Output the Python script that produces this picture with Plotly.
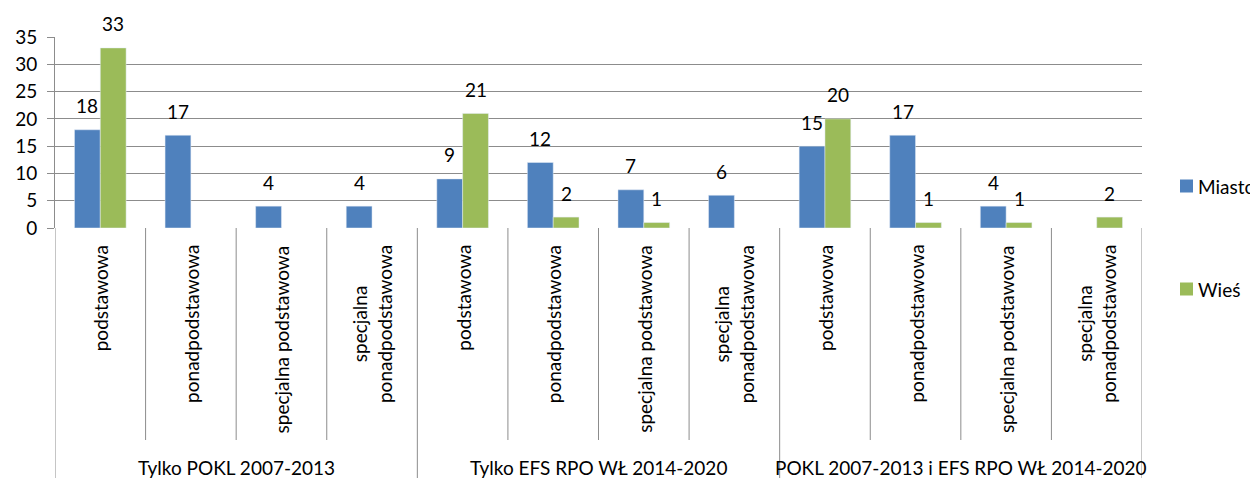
import plotly.graph_objects as go

groups = ["Tylko POKL 2007-2013", "Tylko EFS RPO WŁ 2014-2020", "POKL 2007-2013 i EFS RPO WŁ 2014-2020"]
school_types = ["podstawowa", "ponadpodstawowa", "specjalna podstawowa", "specjalna<br>ponadpodstawowa"]
school_types_g2 = ["podstawowa", "ponadpodstawowa", "specjalna podstawowa", "specjalna<br>ponadpodstawowa"]
school_types_g3 = ["podstawowa", "ponadpodstawowa", "specjalna podstawowa", "specjalna<br>ponadpodstawowa"]
miasto = [18, 17, 4, 4, 9, 12, 7, 6, 15, 17, 4, None]
wies = [33, None, None, None, 21, 2, 1, None, 20, 1, 1, 2]
series_names = ["Miasto", "Wieś"]
y_ticks = [0, 5, 10, 15, 20, 25, 30, 35]

labels = school_types + school_types_g2 + school_types_g3
n = len(labels)
xs = list(range(n))

C_M = "#4F81BD"
C_W = "#9BBB59"
GRID = "#8C8C8C"
FONT = "Lato"
FS = 19
BARGAP = 0.43

# the page body adds an 8px margin; the figure is sized to fill the rest
PAGE_OFF = 8
SCREEN_W, SCREEN_H = 1258, 478
W, H = SCREEN_W - PAGE_OFF, SCREEN_H - PAGE_OFF
# plot area in screen pixels
SX0, SX1, SY0, SY1 = 55, 1142, 37, 228
L, T = SX0 - PAGE_OFF, SY0 - PAGE_OFF
R, B = W - (SX1 - PAGE_OFF), H - (SY1 - PAGE_OFF)
PW, PH = SX1 - SX0, SY1 - SY0


def px_x(px):
    return (px - SX0) / PW


def px_y(py):
    return (SY1 - py) / PH


fig = go.Figure()
fig.add_trace(go.Bar(x=xs, y=miasto, name=series_names[0], marker_color=C_M))
fig.add_trace(go.Bar(x=xs, y=wies, name=series_names[1], marker_color=C_W))

off = (1 - BARGAP) / 4
annotations = []
for series, sign in ((miasto, -1), (wies, 1)):
    for i, v in enumerate(series):
        if v is None:
            continue
        annotations.append(dict(x=i + sign * off, y=v, xref="x", yref="y", text=str(v),
                                showarrow=False, yanchor="middle", yshift=24,
                                font=dict(size=FS, color="#000", family=FONT)))

# inner category labels
for i, lab in enumerate(labels):
    annotations.append(dict(x=i, y=px_y(243), xref="x", yref="paper", text=lab, textangle=-90,
                            showarrow=False, yanchor="top", xanchor="center", align="center",
                            font=dict(size=FS, color="#000", family=FONT)))
# group labels
for g, name in enumerate(groups):
    annotations.append(dict(x=g * 4 + 1.5, y=px_y(467), xref="x", yref="paper", text=name,
                            showarrow=False, yanchor="middle", xanchor="center",
                            font=dict(size=FS, color="#000", family=FONT)))

shapes = []
for k in range(n + 1):
    xv = k - 0.5
    is_group = (k % 4 == 0)
    shapes.append(dict(type="line", xref="x", yref="paper", x0=xv, x1=xv,
                       y0=0, y1=px_y(480) if is_group else px_y(440),
                       line=dict(color=GRID, width=1)))

# manual legend
for name, col, cy in ((series_names[0], C_M, 186), (series_names[1], C_W, 289)):
    shapes.append(dict(type="rect", xref="paper", yref="paper",
                       x0=px_x(1180), x1=px_x(1193), y0=px_y(cy + 6.5), y1=px_y(cy - 6.5),
                       fillcolor=col, line=dict(width=0)))
    annotations.append(dict(x=px_x(1196), y=px_y(cy), xref="paper", yref="paper", text=name,
                            showarrow=False, xanchor="left", yanchor="middle",
                            font=dict(size=FS, color="#000", family=FONT)))

fig.update_layout(
    width=W, height=H,
    margin=dict(l=L, r=R, t=T, b=B, autoexpand=False),
    paper_bgcolor="white", plot_bgcolor="white",
    showlegend=False,
    barmode="group", bargap=BARGAP, bargroupgap=0,
    font=dict(family=FONT, size=FS, color="#000"),
    xaxis=dict(range=[-0.5, n - 0.5], showticklabels=False, showgrid=False,
               zeroline=False, showline=False, ticks=""),
    yaxis=dict(range=[0, 35], tickvals=y_ticks, showgrid=True, gridcolor=GRID, gridwidth=1,
               zeroline=False, showline=True, linecolor=GRID, linewidth=1,
               ticks="outside", ticklen=7, tickcolor=GRID, ticklabelstandoff=6,
               tickfont=dict(size=FS, family=FONT)),
    annotations=annotations,
    shapes=shapes,
)

fig.write_html("out.html")
